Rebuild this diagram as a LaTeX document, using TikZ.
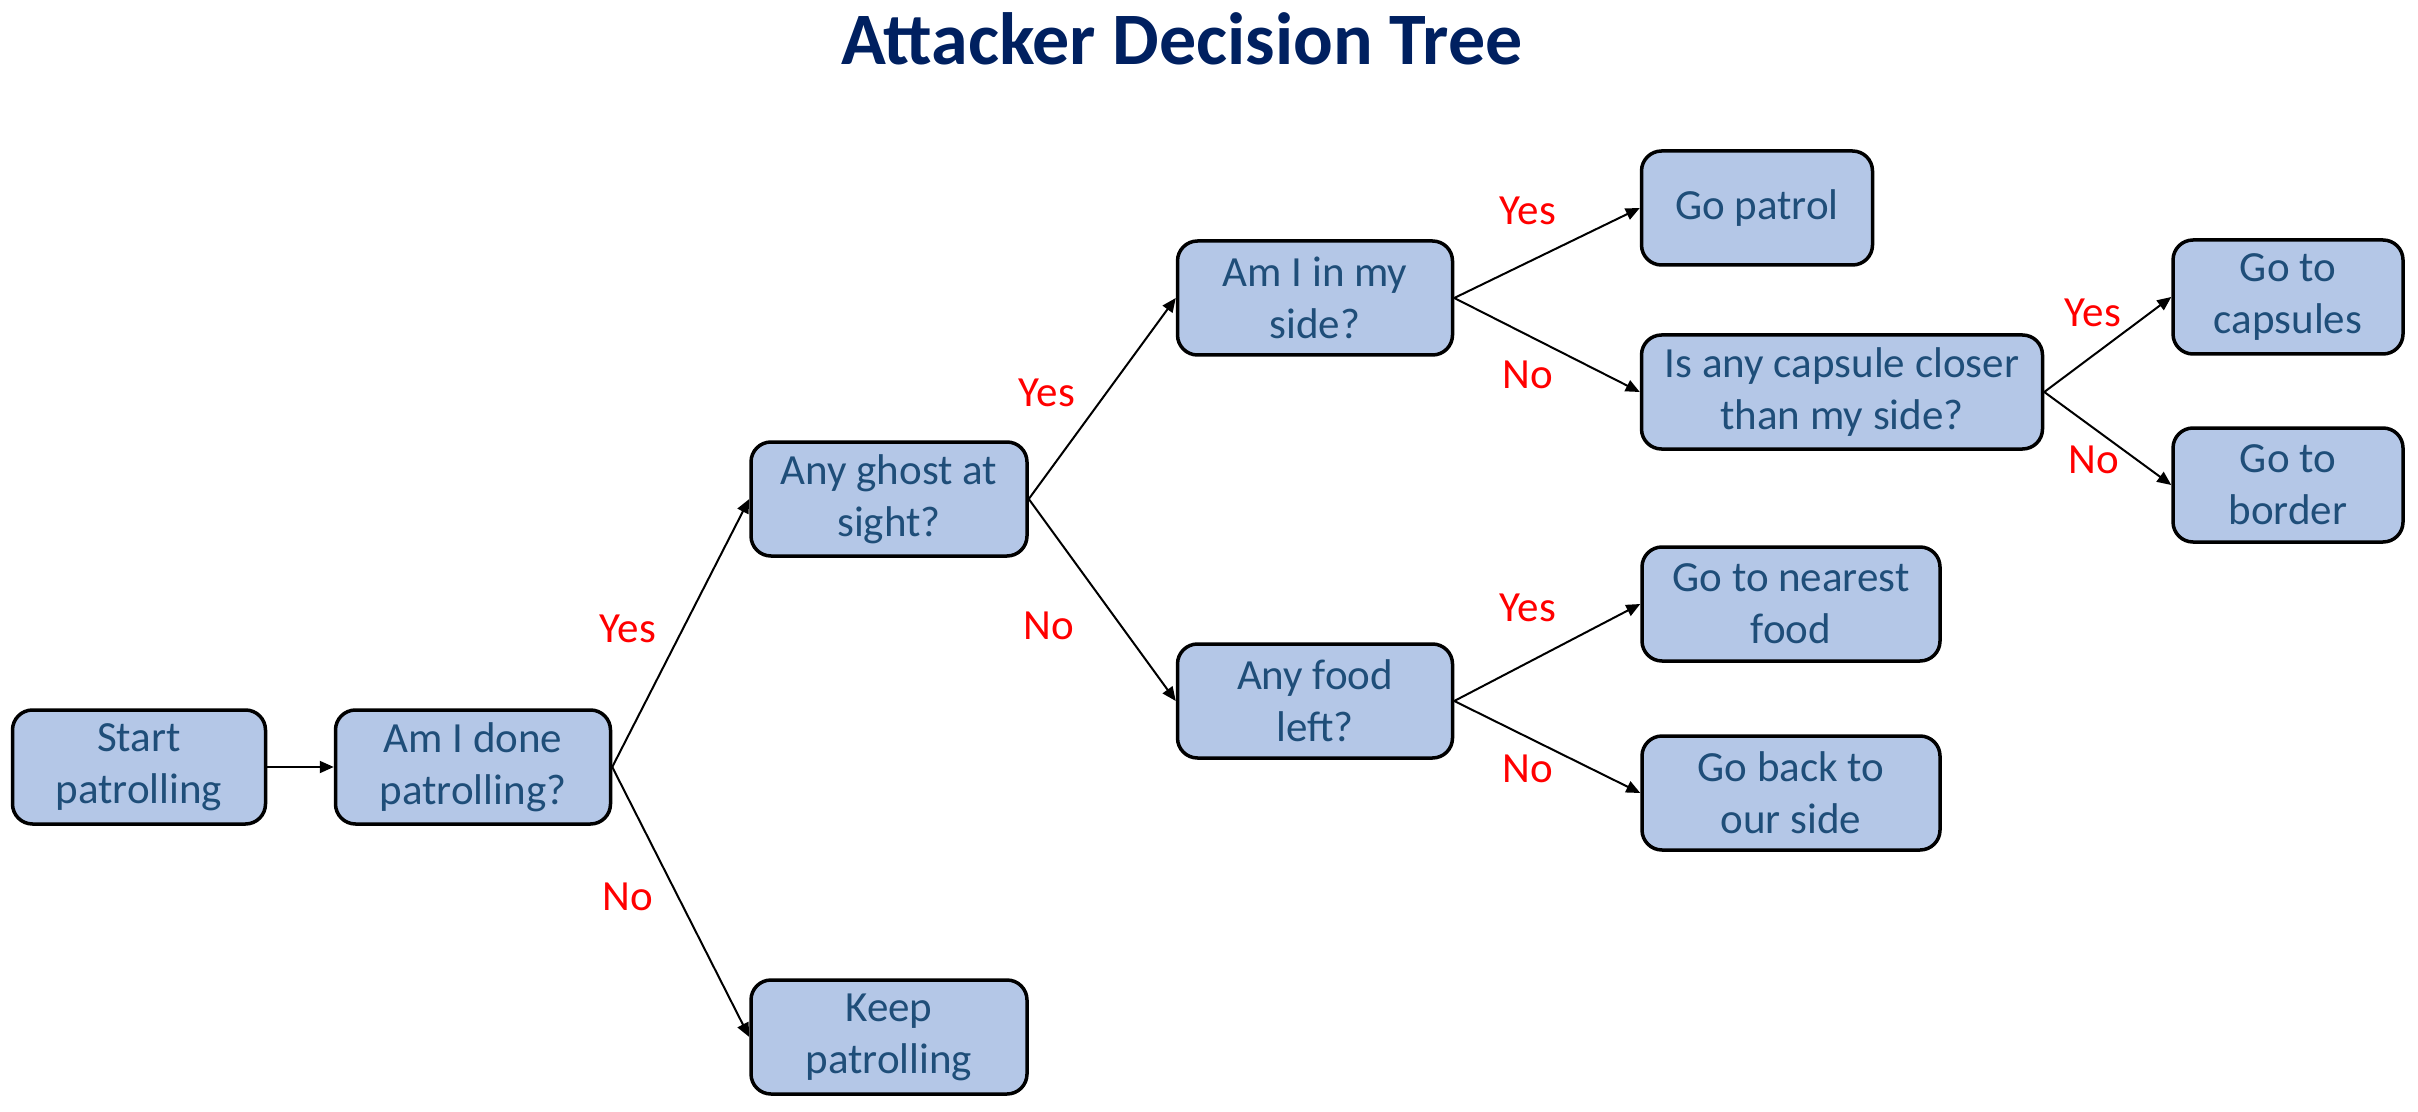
\documentclass[tikz,border=0pt]{standalone}
\usepackage{fontspec}
\setmainfont{Carlito}
\usetikzlibrary{arrows.meta}

\definecolor{boxfill}{HTML}{B4C7E7}
\definecolor{boxtext}{HTML}{1F4E79}
\definecolor{titleblue}{HTML}{002060}

\begin{document}
\begin{tikzpicture}[x=0.5pt, y=-0.5pt,
  decision/.style={draw=black, line width=1.75pt, fill=boxfill, rounded corners=10pt,
    text=boxtext, align=center, minimum height=57pt, inner sep=0pt,
    font=\fontsize{21.5}{26}\selectfont},
  answer/.style={text=red, font=\fontsize{21.5}{26}\selectfont},
  link/.style={line width=1pt, draw=black, -{Triangle[length=7pt, width=6pt]}}
  ]

  \useasboundingbox (0,0) rectangle (2418,1112);

  % Title
  \node[font=\bfseries\fontsize{37}{44}\selectfont, text=titleblue, anchor=base] (title) at (1182,65) {Attacker Decision Tree};

  % Decisions
  \node[decision, minimum width=126.5pt] (start)    at (139,767)  {Start\\patrolling};
  \node[decision, minimum width=137.5pt] (done)     at (473,767)  {Am I done\\patrolling?};
  \node[decision, minimum width=138pt]   (ghost)    at (889,499)  {Any ghost at\\sight?};
  \node[decision, minimum width=138pt]   (keep)     at (889,1037) {Keep\\patrolling};
  \node[decision, minimum width=137.5pt] (side)     at (1315,298) {Am I in my\\side?};
  \node[decision, minimum width=137.5pt] (food)     at (1315,701) {Any food\\left?};
  \node[decision, minimum width=115.5pt] (patrol)   at (1757,208) {Go patrol};
  \node[decision, minimum width=200.5pt] (capsule)  at (1842,392) {Is any capsule closer\\than my side?};
  \node[decision, minimum width=149pt]   (nearest)  at (1791,604) {Go to nearest\\food};
  \node[decision, minimum width=149pt]   (back)     at (1791,793) {Go back to\\our side};
  \node[decision, minimum width=115pt]   (capsules) at (2288,297) {Go to\\capsules};
  \node[decision, minimum width=115pt]   (border)   at (2288,485) {Go to\\border};

  % Links
  \draw[link] (start.east) -- (done.west);
  \draw[link] (done.east) -- (ghost.west);
  \draw[link] (done.east) -- (keep.west);
  \draw[link] (ghost.east) -- (side.west);
  \draw[link] (ghost.east) -- (food.west);
  \draw[link] (side.east) -- (patrol.west);
  \draw[link] (side.east) -- (capsule.west);
  \draw[link] (food.east) -- (nearest.west);
  \draw[link] (food.east) -- (back.west);
  \draw[link] (capsule.east) -- (capsules.west);
  \draw[link] (capsule.east) -- (border.west);

  % Answers
  \node[answer] (yes1) at (628,629)  {Yes};
  \node[answer] (no1)  at (628,897)  {No};
  \node[answer] (yes2) at (1047,393) {Yes};
  \node[answer] (no2)  at (1049,626) {No};
  \node[answer] (yes3) at (1528,211) {Yes};
  \node[answer] (no3)  at (1528,375) {No};
  \node[answer] (yes4) at (1528,608) {Yes};
  \node[answer] (no4)  at (1528,769) {No};
  \node[answer] (yes5) at (2093,313) {Yes};
  \node[answer] (no5)  at (2094,460) {No};

\end{tikzpicture}
\end{document}
